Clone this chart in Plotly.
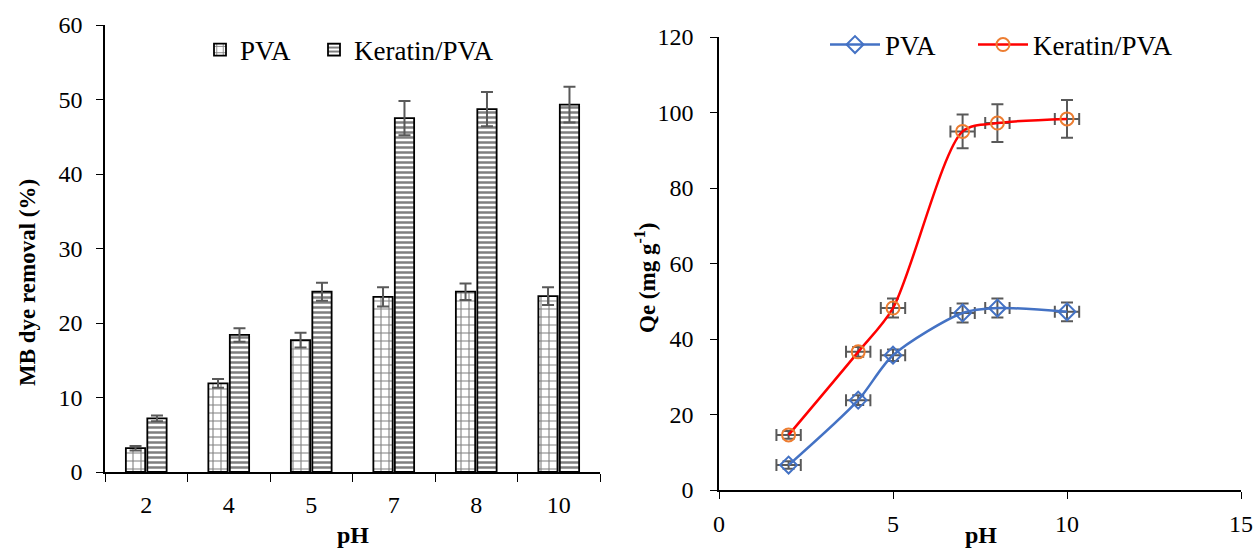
import plotly.graph_objects as go

# ---- data ----
ph_labels = ["2", "4", "5", "7", "8", "10"]
bar_pva = [3.2, 11.9, 17.7, 23.5, 24.2, 23.6]
bar_pva_err = [0.3, 0.6, 1.0, 1.3, 1.1, 1.2]
bar_ker = [7.2, 18.4, 24.2, 47.5, 48.7, 49.3]
bar_ker_err = [0.4, 0.9, 1.2, 2.3, 2.3, 2.4]

ph_vals = [2, 4, 5, 7, 8, 10]
qe_pva = [6.6, 23.8, 35.7, 46.9, 48.2, 47.2]
qe_pva_err = [1.0, 1.3, 1.5, 2.5, 2.5, 2.5]
qe_ker = [14.6, 36.6, 48.2, 95.0, 97.2, 98.3]
qe_ker_err = [1.0, 1.3, 2.5, 4.5, 5.0, 5.0]
ph_err = [0.35, 0.35, 0.35, 0.35, 0.35, 0.35]

FONT = "Liberation Serif"
GRAY = "#595959"
W, H = 1255, 549

fig = go.Figure()

fig.add_trace(go.Bar(
    x=ph_labels, y=bar_pva, name="PVA",
    marker=dict(color="white", line=dict(color="black", width=1.8),
                pattern=dict(shape="+", fgcolor="black", size=8, solidity=0.25)),
    error_y=dict(type="data", array=bar_pva_err, color=GRAY, thickness=2, width=6),
    xaxis="x", yaxis="y", legend="legend2",
))
fig.add_trace(go.Bar(
    x=ph_labels, y=bar_ker, name="Keratin/PVA",
    marker=dict(color="white", line=dict(color="black", width=1.8),
                pattern=dict(shape="-", fgcolor="black", size=5, solidity=0.5)),
    error_y=dict(type="data", array=bar_ker_err, color=GRAY, thickness=2, width=6),
    xaxis="x", yaxis="y", legend="legend3",
))

fig.add_trace(go.Scatter(
    x=ph_vals, y=qe_pva, name="PVA", mode="lines+markers",
    line=dict(color="#4472C4", width=2.5, shape="spline", smoothing=0.8),
    marker=dict(symbol="diamond-open", size=13, color="#4472C4", line=dict(width=2)),
    error_y=dict(type="data", array=qe_pva_err, color=GRAY, thickness=2, width=6),
    error_x=dict(type="data", array=ph_err, color=GRAY, thickness=2, width=6),
    xaxis="x2", yaxis="y2", legend="legend4",
))
fig.add_trace(go.Scatter(
    x=ph_vals, y=qe_ker, name="Keratin/PVA", mode="lines+markers",
    line=dict(color="#FF0000", width=2.5, shape="spline", smoothing=0.8),
    marker=dict(symbol="circle-open", size=13, color="#ED7D31", line=dict(width=2)),
    error_y=dict(type="data", array=qe_ker_err, color=GRAY, thickness=2, width=6),
    error_x=dict(type="data", array=ph_err, color=GRAY, thickness=2, width=6),
    xaxis="x2", yaxis="y2", legend="legend5",
))

tickfont = dict(family=FONT, size=24, color="black")
legfont = dict(family=FONT, size=27, color="black")

common = dict(showline=True, linecolor="black", linewidth=1.5, ticks="outside",
              tickcolor="black", tickfont=tickfont, showgrid=False, automargin=False)


def leg(xpx, ypx, iw):
    return dict(x=xpx/W, y=1-ypx/H, xanchor="left", yanchor="middle",
                orientation="h", font=legfont, bgcolor="rgba(0,0,0,0)", itemwidth=iw)


fig.update_layout(
    width=W, height=H,
    margin=dict(l=0, r=0, t=0, b=0, autoexpand=False),
    paper_bgcolor="white", plot_bgcolor="white",
    font=dict(family=FONT, color="black"),
    showlegend=True,
    barmode="group", bargap=0.48, bargroupgap=0.1,
    xaxis=dict(domain=[105/W, 600/W], anchor="y", type="category",
               ticklen=8, tickson="boundaries", ticklabelstandoff=10, **common),
    yaxis=dict(domain=[(H-472)/H, (H-25)/H], anchor="x", range=[0, 60], dtick=10,
               ticklen=7, zeroline=False, ticklabelstandoff=9, **common),
    xaxis2=dict(domain=[719/W, 1241/W], anchor="y2", range=[0, 15], dtick=5,
                ticklen=7, zeroline=False, ticklabelstandoff=4, **common),
    yaxis2=dict(domain=[(H-490)/H, (H-37)/H], anchor="x2", range=[0, 120], dtick=20,
                ticklen=7, zeroline=False, ticklabelstandoff=12, **common),
    legend2=leg(200, 50, 30),
    legend3=leg(314, 50, 30),
    legend4=leg(825, 45, 50),
    legend5=leg(973, 45, 50),
    annotations=[
        dict(text="MB dye removal (%)", x=27/W, y=1-283/H, xref="paper", yref="paper",
             textangle=-90, showarrow=False, font=dict(family=FONT, size=23, color="black", weight="bold"),
             xanchor="center", yanchor="middle"),
        dict(text="pH", x=353/W, y=1-535/H, xref="paper", yref="paper",
             showarrow=False, font=dict(family=FONT, size=24, color="black", weight="bold"),
             xanchor="center", yanchor="middle"),
        dict(text="Qe (mg g<sup>-1</sup>)", x=645/W, y=1-278/H, xref="paper", yref="paper",
             textangle=-90, showarrow=False, font=dict(family=FONT, size=23, color="black", weight="bold"),
             xanchor="center", yanchor="middle"),
        dict(text="pH", x=981/W, y=1-535/H, xref="paper", yref="paper",
             showarrow=False, font=dict(family=FONT, size=24, color="black", weight="bold"),
             xanchor="center", yanchor="middle"),
    ],
)

fig.write_html("out.html")
